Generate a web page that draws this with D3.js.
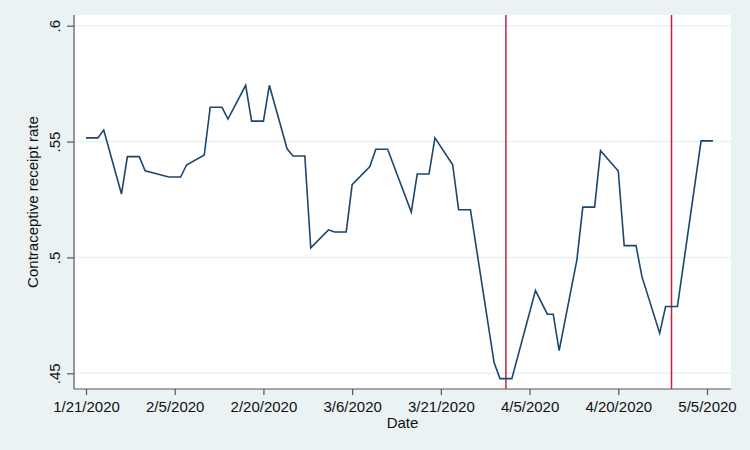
<!DOCTYPE html>
<html>
<head>
<meta charset="utf-8">
<script src="https://cdn.jsdelivr.net/npm/d3@7"></script>
<style>
  body { margin: 0; background: #eaf2f3; }
  text { font-family: "Liberation Sans", Arial, sans-serif; fill: #111; }
</style>
</head>
<body>
<script>
// Data
var dates = ['1/21/2020', '1/23/2020', '1/24/2020', '1/27/2020', '1/28/2020', '1/30/2020', '1/31/2020',
  '2/4/2020', '2/6/2020', '2/7/2020', '2/10/2020', '2/11/2020', '2/13/2020', '2/14/2020', '2/17/2020',
  '2/18/2020', '2/20/2020', '2/21/2020', '2/24/2020', '2/25/2020', '2/27/2020', '2/28/2020',
  '3/2/2020', '3/3/2020', '3/5/2020', '3/6/2020', '3/9/2020', '3/10/2020', '3/12/2020', '3/16/2020',
  '3/17/2020', '3/19/2020', '3/20/2020', '3/23/2020', '3/24/2020', '3/26/2020', '3/30/2020', '3/31/2020',
  '4/2/2020', '4/6/2020', '4/8/2020', '4/9/2020', '4/10/2020', '4/13/2020', '4/14/2020', '4/16/2020',
  '4/17/2020', '4/20/2020', '4/21/2020', '4/23/2020', '4/24/2020', '4/27/2020', '4/28/2020', '4/30/2020',
  '5/4/2020', '5/6/2020'];
var rates = [0.5516, 0.5516, 0.555, 0.5274, 0.5435, 0.5435, 0.5374,
  0.5347, 0.5347, 0.5399, 0.5442, 0.5648, 0.5648, 0.5597, 0.5743,
  0.5588, 0.5588, 0.5743, 0.5469, 0.5438, 0.5438, 0.5041,
  0.5119, 0.511, 0.511, 0.5314, 0.5392, 0.5467, 0.5467, 0.5196,
  0.536, 0.536, 0.5516, 0.54, 0.5206, 0.5206, 0.4546, 0.4477,
  0.4477, 0.4857, 0.4755, 0.4755, 0.4598, 0.4989, 0.5217, 0.5217,
  0.5461, 0.5373, 0.5051, 0.5051, 0.4917, 0.4673, 0.4788, 0.4788,
  0.5503, 0.5503];
var xTicks = ['1/21/2020', '2/5/2020', '2/20/2020', '3/6/2020', '3/21/2020', '4/5/2020', '4/20/2020', '5/5/2020'];
var yTicks = [0.45, 0.5, 0.55, 0.6];
var yTickLabels = ['.45', '.5', '.55', '.6'];
var markerDates = ['4/1/2020', '4/29/2020'];

var parse = d3.timeParse('%m/%d/%Y');
var data = dates.map(function (d, i) { return { date: parse(d), value: rates[i] }; });

var width = 750, height = 450;
var plot = { left: 74, right: 731, top: 15, bottom: 389 };

var svg = d3.select('body').append('svg')
  .attr('width', width)
  .attr('height', height);

svg.append('rect')
  .attr('width', width).attr('height', height)
  .attr('fill', '#eaf2f3');

svg.append('rect')
  .attr('x', plot.left).attr('y', plot.top)
  .attr('width', plot.right - plot.left)
  .attr('height', plot.bottom - plot.top)
  .attr('fill', '#fff');

var x = d3.scaleTime()
  .domain([parse('1/21/2020'), parse('5/5/2020')])
  .range([86, 707]);
var y = d3.scaleLinear()
  .domain([0.45, 0.6])
  .range([373.3, 25.7]);

// gridlines
svg.append('g').selectAll('line')
  .data(yTicks).enter().append('line')
  .attr('x1', plot.left).attr('x2', plot.right)
  .attr('y1', function (d) { return y(d); })
  .attr('y2', function (d) { return y(d); })
  .attr('stroke', '#eaf2f3')
  .attr('stroke-width', 1.5);

// red reference lines
svg.append('g').selectAll('line')
  .data(markerDates).enter().append('line')
  .attr('x1', function (d) { return x(parse(d)); })
  .attr('x2', function (d) { return x(parse(d)); })
  .attr('y1', plot.top).attr('y2', plot.bottom)
  .attr('stroke', '#c8203f')
  .attr('stroke-width', 1.5);

var line = d3.line()
  .x(function (d) { return x(d.date); })
  .y(function (d) { return y(d.value); });

svg.append('path')
  .datum(data)
  .attr('fill', 'none')
  .attr('stroke', '#1a476f')
  .attr('stroke-width', 1.6)
  .attr('stroke-linejoin', 'miter')
  .attr('d', line);

// x axis
var xAxis = d3.axisBottom(x)
  .tickValues(xTicks.map(parse))
  .tickSize(6)
  .tickPadding(6)
  .tickFormat(function (d, i) { return xTicks[i]; });

var gx = svg.append('g')
  .attr('transform', 'translate(0,' + plot.bottom + ')')
  .call(xAxis);
gx.select('.domain').attr('d', 'M' + plot.left + ',0H' + plot.right);
gx.selectAll('line, .domain').attr('stroke', '#555').attr('stroke-width', 1.2);
gx.selectAll('text').attr('font-size', 15).attr('font-family', '"Liberation Sans", Arial, sans-serif').attr('fill', '#111');

// y axis
var yAxis = d3.axisLeft(y)
  .tickValues(yTicks)
  .tickSize(7)
  .tickFormat(function (d, i) { return yTickLabels[i]; });

var gy = svg.append('g')
  .attr('transform', 'translate(' + plot.left + ',0)')
  .call(yAxis);
gy.select('.domain').attr('d', 'M0,' + plot.top + 'V' + plot.bottom);
gy.selectAll('line, .domain').attr('stroke', '#555').attr('stroke-width', 1.2);
gy.selectAll('.tick text')
  .attr('x', null).attr('dy', null)
  .attr('transform', 'translate(-14,0) rotate(-90)')
  .attr('text-anchor', 'middle')
  .attr('font-size', 15)
  .attr('font-family', '"Liberation Sans", Arial, sans-serif')
  .attr('fill', '#111');

// titles
svg.append('text')
  .attr('x', (plot.left + plot.right) / 2)
  .attr('y', 428)
  .attr('text-anchor', 'middle')
  .style('font-size', '15px')
  .text('Date');

svg.append('text')
  .attr('transform', 'translate(38,' + (plot.top + plot.bottom) / 2 + ') rotate(-90)')
  .attr('text-anchor', 'middle')
  .style('font-size', '15px')
  .text('Contraceptive receipt rate');
</script>
</body>
</html>
